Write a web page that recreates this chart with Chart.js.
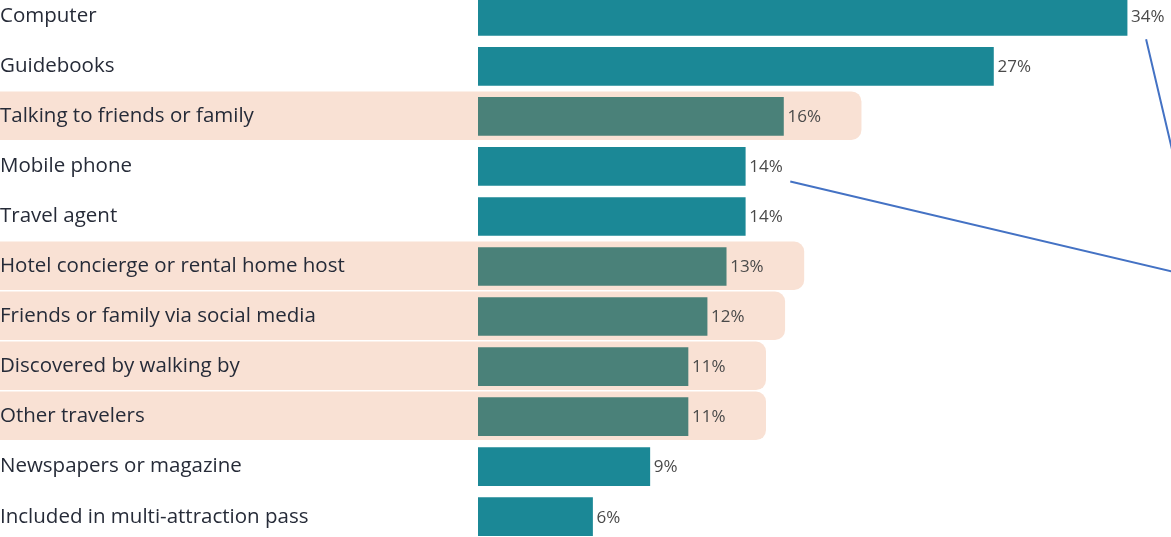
<!DOCTYPE html>
<html>
<head>
<meta charset="utf-8">
<script src="https://cdn.jsdelivr.net/npm/chart.js@4"></script>
<style>
  html, body { margin: 0; padding: 0; background: #fff; overflow: hidden; }
  #wrap { position: absolute; left: 0; top: -21px; width: 1171px; height: 575px; }
</style>
</head>
<body>
<div id="wrap"><canvas id="sourcesChart"></canvas></div>
<script>
const categories = [
  "Computer",
  "Guidebooks",
  "Talking to friends or family",
  "Mobile phone",
  "Travel agent",
  "Hotel concierge or rental home host",
  "Friends or family via social media",
  "Discovered by walking by",
  "Other travelers",
  "Newspapers or magazine",
  "Included in multi-attraction pass",
];
const shares = [34, 27, 16, 14, 14, 13, 12, 11, 11, 9, 6];

// word-of-mouth sources get the peach band
const highlightedRows = [
  "Talking to friends or family",
  "Hotel concierge or rental home host",
  "Friends or family via social media",
  "Discovered by walking by",
  "Other travelers",
];

const TEAL = "#1b8896";
const TEAL_DARK = "#4a8179";
const PEACH = "#f9e1d4";
const LINE_BLUE = "#4472c4";

const isHighlighted = (i) => highlightedRows.includes(categories[i]);

const bandsPlugin = {
  id: "bands",
  beforeDraw(chart) {
    const ctx = chart.ctx;
    const meta = chart.getDatasetMeta(0);
    ctx.save();
    ctx.fillStyle = PEACH;
    meta.data.forEach((bar, i) => {
      if (!isHighlighted(i)) return;
      ctx.beginPath();
      ctx.roundRect(-12, bar.y - 25, bar.x + 90, 48.5, 10);
      ctx.fill();
    });
    ctx.restore();
  },
};

const valueLabelsPlugin = {
  id: "valueLabels",
  afterDatasetsDraw(chart) {
    const ctx = chart.ctx;
    const meta = chart.getDatasetMeta(0);
    ctx.save();
    ctx.font = "17px 'Open Sans'";
    ctx.fillStyle = "#4a4a4a";
    ctx.textBaseline = "middle";
    ctx.textAlign = "left";
    meta.data.forEach((bar, i) => {
      ctx.fillText(shares[i] + "%", bar.x + 4, bar.y + 1);
    });
    ctx.restore();
  },
};

// blue callout lines running off to the right edge
const calloutPlugin = {
  id: "callouts",
  afterDraw(chart) {
    const ctx = chart.ctx;
    const meta = chart.getDatasetMeta(0);
    const right = chart.width;
    const comp = meta.data[categories.indexOf("Computer")];
    const mob = meta.data[categories.indexOf("Mobile phone")];
    ctx.save();
    ctx.strokeStyle = LINE_BLUE;
    ctx.lineWidth = 2;
    ctx.beginPath();
    let x0 = comp.x + 19, y0 = comp.y + 23;
    ctx.moveTo(x0, y0);
    ctx.lineTo(right + 5, y0 + (right + 5 - x0) * 4.25);
    x0 = mob.x + 45; y0 = mob.y + 15;
    ctx.moveTo(x0, y0);
    ctx.lineTo(right + 5, y0 + (right + 5 - x0) * 0.236);
    ctx.stroke();
    ctx.restore();
  },
};

new Chart(document.getElementById("sourcesChart").getContext("2d"), {
  type: "bar",
  data: {
    labels: categories,
    datasets: [
      {
        data: shares,
        backgroundColor: categories.map((c, i) => (isHighlighted(i) ? TEAL_DARK : TEAL)),
        borderWidth: 0,
        barThickness: 38,
      },
    ],
  },
  options: {
    indexAxis: "y",
    responsive: true,
    maintainAspectRatio: false,
    animation: false,
    layout: { padding: 0 },
    plugins: {
      legend: { display: false },
      tooltip: { enabled: false },
    },
    scales: {
      x: { display: false, min: 0, max: 36.3 },
      y: {
        grid: { display: false },
        border: { display: false },
        ticks: {
          crossAlign: "far",
          padding: 0,
          color: "#262b38",
          font: { family: "'Open Sans'", size: 20.5 },
        },
        afterFit(scale) {
          scale.width = 478;
        },
      },
    },
  },
  plugins: [bandsPlugin, valueLabelsPlugin, calloutPlugin],
});
</script>
</body>
</html>
